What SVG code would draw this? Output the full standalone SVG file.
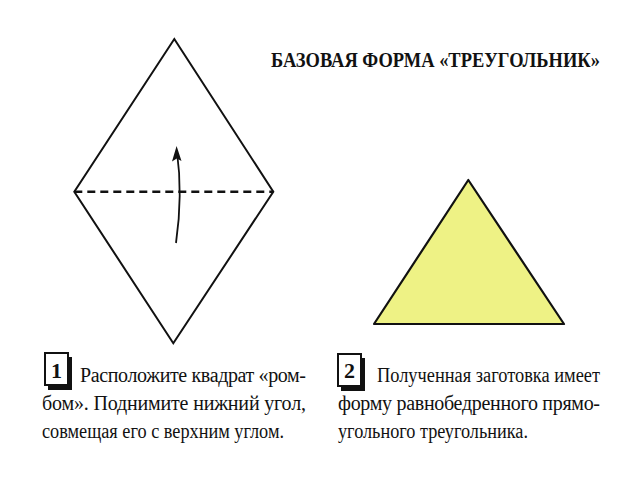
<svg xmlns="http://www.w3.org/2000/svg" width="640" height="480" viewBox="0 0 640 480">
<style>
.ln{fill:none;stroke:#111;stroke-width:2;stroke-linejoin:miter}
.t{font-family:"Liberation Serif","Times New Roman",serif;fill:#111;font-size:20px}
.title{font-family:"Liberation Serif","Times New Roman",serif;font-weight:bold;fill:#111;font-size:21px}
.num{font-family:"Liberation Serif","Times New Roman",serif;font-weight:bold;fill:#111;font-size:22px}
</style>
<rect width="640" height="480" fill="#fff"/>
<g id="title" transform="scale(0.85,1)">
<text class="title" x="318.8" y="67" textLength="387" lengthAdjust="spacingAndGlyphs">БАЗОВАЯ ФОРМА «ТРЕУГОЛЬНИК»</text>
</g>
<g id="rhombus">
<path class="ln" d="M174.3,39 L273.3,191.7 L173.3,343.3 L74.3,191.7 Z"/>
<line x1="74.3" y1="191.7" x2="273.3" y2="191.7" stroke="#111" stroke-width="2.5" stroke-dasharray="8,5"/>
</g>
<g id="connectors">
<path d="M176,243 Q183,195 176.8,150" fill="none" stroke="#111" stroke-width="1.8"/>
<path d="M176.6,146 L181.5,161 L176.8,158.5 L172,161.5 Z" fill="#111"/>
</g>
<g id="triangle">
<path d="M468.3,180 L564,324 L374,324 Z" fill="#EEF285" stroke="#111" stroke-width="2.2" stroke-linejoin="round"/>
</g>
<g id="step1">
<rect x="48" y="357" width="24" height="33" fill="#111"/>
<rect x="45" y="353" width="23" height="32" fill="#fff" stroke="#111" stroke-width="2"/>
<text class="num" x="56.5" y="378" text-anchor="middle">1</text>
<text class="t" x="80" y="382" textLength="226" lengthAdjust="spacing">Расположите квадрат «ром-</text>
<text class="t" x="42" y="410" textLength="264" lengthAdjust="spacing">бом». Поднимите нижний угол,</text>
<text class="t" x="42" y="438" textLength="242" lengthAdjust="spacingAndGlyphs">совмещая его с верхним углом.</text>
</g>
<g id="step2">
<rect x="341" y="358" width="24" height="33" fill="#111"/>
<rect x="338" y="354" width="23" height="32" fill="#fff" stroke="#111" stroke-width="2"/>
<text class="num" x="349.5" y="378" text-anchor="middle">2</text>
<text class="t" x="377" y="382" textLength="223" lengthAdjust="spacingAndGlyphs">Полученная заготовка имеет</text>
<text class="t" x="338" y="410" textLength="262" lengthAdjust="spacing">форму равнобедренного прямо-</text>
<text class="t" x="338" y="438" textLength="190" lengthAdjust="spacingAndGlyphs">угольного треугольника.</text>
</g>
</svg>
